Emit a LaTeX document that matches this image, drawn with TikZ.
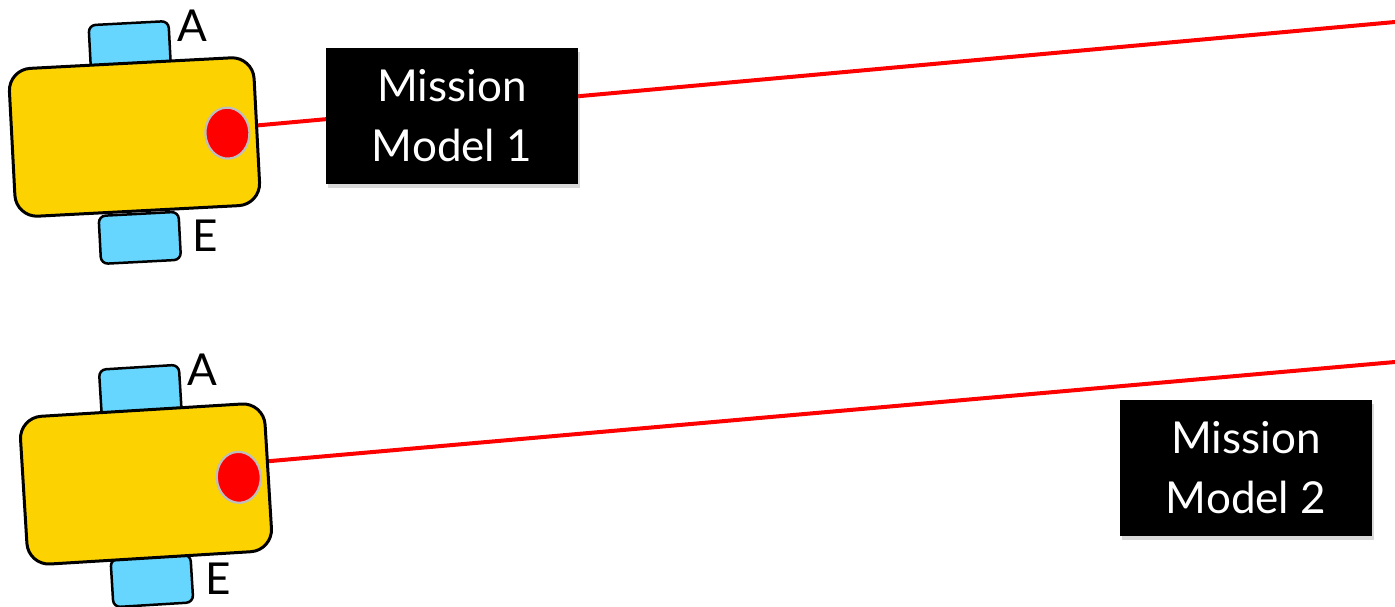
\documentclass[tikz,border=0pt]{standalone}
\usepackage{fontspec}
\setmainfont{Lato}
\usetikzlibrary{shapes.geometric}
\usetikzlibrary{shadows}
\usetikzlibrary{backgrounds}
\definecolor{botyellow}{RGB}{252,211,0}
\definecolor{wheelblue}{RGB}{102,214,255}
\definecolor{lensgray}{RGB}{190,190,190}

\begin{document}
\begin{tikzpicture}[
  x=1pt, y=1pt,
  body/.style={draw=black, line width=3pt, fill=botyellow, rounded corners=22pt,
    minimum width=245pt, minimum height=148pt, inner sep=0pt},
  wheel/.style={draw=black, line width=2.5pt, fill=wheelblue, rounded corners=7pt,
    minimum width=80pt, minimum height=48pt, inner sep=0pt},
  lens/.style={ellipse, draw=lensgray, line width=2.2pt, fill=red,
    minimum width=44pt, minimum height=51pt, inner sep=0pt},
  tag/.style={font=\fontsize{44}{50}\selectfont, inner sep=0pt},
  mission/.style={fill=black, text=white, align=center, inner sep=0pt,
    minimum width=252pt, minimum height=136pt, font=\fontsize{44}{60}\selectfont,
    drop shadow={shadow xshift=2pt, shadow yshift=-4pt, opacity=0.3}},
  beam/.style={red, line width=4pt},
]
\useasboundingbox (0,0) rectangle (1395,606);

% first robot
\begin{scope}[shift={(134.5,469)}, rotate=3, transform shape]
  \node [wheel] (a1) at (0,90) {};
  \node [wheel] (e1) at (0,-101) {};
  \node [body] (r1) at (0,0) {};
  \node [lens] (s1) at (93,-1) {};
\end{scope}
\node [tag, anchor=base west] at ([xshift=6pt, yshift=3pt]a1.east) {A};
\node [tag, anchor=west] at ([xshift=11pt]e1.east) {E};

% second robot
\begin{scope}[shift={(146,122)}, rotate=3.5, transform shape]
  \node [wheel] (a2) at (0,93) {};
  \node [wheel] (e2) at (0,-97) {};
  \node [body] (r2) at (0,0) {};
  \node [lens] (s2) at (93,1) {};
\end{scope}
\node [tag, anchor=base west] at ([xshift=6pt, yshift=3pt]a2.east) {A};
\node [tag, anchor=west] at ([xshift=12pt]e2.east) {E};

% mission models
\node [mission] (m1) at (452,490) {Mission\\Model 1};
\node [mission] (m2) at (1246,138) {Mission\\Model 2};

% beams
\coordinate (b1) at (1395,584);
\coordinate (b2) at (1395,244);
\begin{scope}[on background layer]
  \draw [beam] ([yshift=5pt]s1.center) -- (b1);
  \draw [beam] ([yshift=13.5pt]s2.center) -- (b2);
\end{scope}
\end{tikzpicture}
\end{document}
